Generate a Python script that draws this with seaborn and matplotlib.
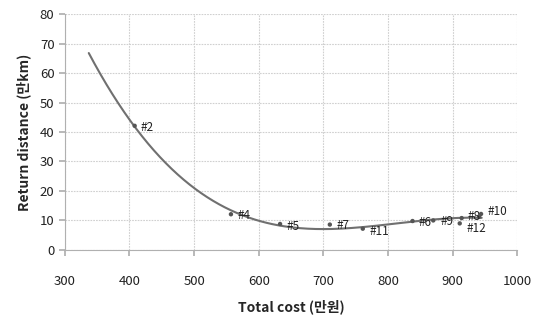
import numpy as np
import pandas as pd
import seaborn as sns
import matplotlib.pyplot as plt

cost = [408, 557, 633, 710, 761, 838, 870, 914, 911, 941, 944]
distance = [42.1, 12.1, 8.8, 8.6, 7.2, 9.8, 10.0, 10.8, 9.0, 11.2, 12.2]
names = ["#2", "#4", "#5", "#7", "#11", "#6", "#9", "#8", "#12", "", "#10"]
label_dx = [4.5, 4.5, 4.5, 4.5, 4.5, 4.5, 5, 4, 5, 5, 5]
label_dy = [-1, -1, -2, -1, -2, -1, -1, 1, -4, 0, 2]

sns.set_theme(style="whitegrid")
plt.rcParams['font.family'] = ['Noto Sans CJK KR', 'DejaVu Sans']

df = pd.DataFrame({"cost": cost, "distance": distance, "name": names})

fig = plt.figure(figsize=(5.36, 3.2), dpi=100)
ax = fig.add_axes([0.121, 0.219, 0.844, 0.737])

# polynomial trend line like the spreadsheet one
coef = np.polyfit(df["cost"], df["distance"], 3)
xs = np.linspace(337, 945, 200)
trend = pd.DataFrame({"cost": xs, "distance": np.polyval(coef, xs)})
sns.lineplot(data=trend, x="cost", y="distance", color="#707070", linewidth=1.5, ax=ax)
sns.scatterplot(data=df, x="cost", y="distance", color="#555555", s=10,
                edgecolor="none", ax=ax, zorder=3)

for i, row in df.iterrows():
    if row["name"]:
        ax.annotate(row["name"], (row["cost"], row["distance"]),
                    xytext=(label_dx[i], label_dy[i]), textcoords="offset points",
                    fontsize=8.5, color="#222222", va="center")

ax.set_xlim(300, 1000)
ax.set_ylim(0, 80)
ax.set_xticks(range(300, 1001, 100))
ax.set_yticks(range(0, 81, 10))
ax.grid(True, color="#d0d0d0", linestyle=(0, (1.5, 1)), linewidth=0.8)
for s in ["top", "right"]:
    ax.spines[s].set_visible(False)
for s in ["left", "bottom"]:
    ax.spines[s].set_color("#b0b0b0")
    ax.spines[s].set_linewidth(0.8)
ax.tick_params(axis="both", length=4, color="#b0b0b0", labelsize=9.5,
               labelcolor="#222222", direction="out", bottom=True, left=True)
ax.tick_params(axis="x", pad=14)
ax.set_xlabel("Total cost (만원)", fontsize=10, fontweight="bold", labelpad=8)
ax.set_ylabel("Return distance (만km)", fontsize=10, fontweight="bold", labelpad=6)

fig.savefig("out.png", dpi=100)
